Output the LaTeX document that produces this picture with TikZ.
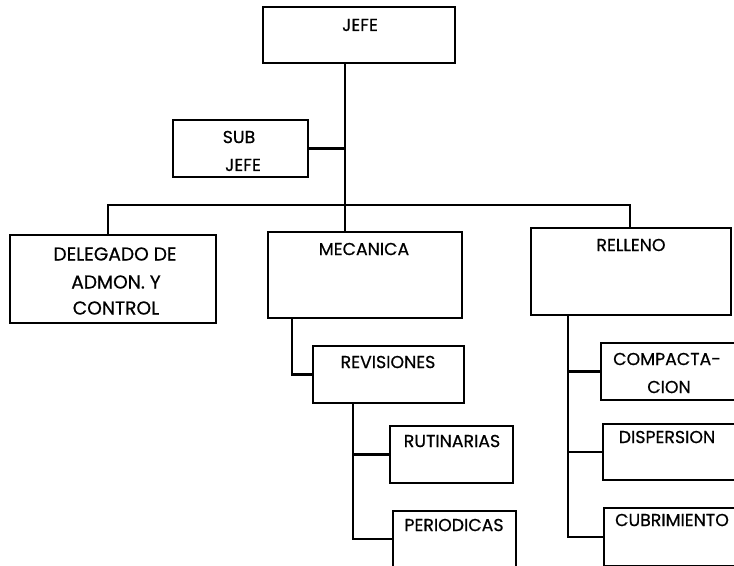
\documentclass[tikz,border=0pt]{standalone}
\usepackage{fontspec}
\setmainfont{Poppins}[FakeBold=0.4]
\newfontfamily\labelfont{Poppins}[FakeBold=0.6]
\begin{document}
\begin{tikzpicture}[x=0.75pt,y=-0.75pt,
  box/.style={draw=black,line width=1.4pt,fill=none,inner sep=0pt},
  lbl/.style={inner sep=0pt,font=\labelfont\fontsize{13}{15}\selectfont},
  biglbl/.style={inner sep=0pt,font=\labelfont\fontsize{14}{16}\selectfont},
  conn/.style={draw=black,line width=2pt,line join=miter}]
\useasboundingbox (0,0) rectangle (734,565);
\clip (0,0) rectangle (734,565);
% boxes: name, left, top, right, bottom
\newcommand{\orgbox}[5]{\node[box,minimum width={(#4-#2)*0.75pt},minimum height={(#5-#3)*0.75pt}] (#1) at ({(#2+#4)/2},{(#3+#5)/2}) {};}
\orgbox{jefe}{263}{7}{455}{63}
\orgbox{sub}{173}{120}{308}{177}
\orgbox{del}{10}{235}{216}{323}
\orgbox{mec}{268}{232}{462}{318}
\orgbox{rel}{531}{228}{731}{315}
\orgbox{rev}{313}{346}{464}{403}
\orgbox{rut}{390}{426}{513}{483}
\orgbox{per}{393}{511}{516}{567}
\orgbox{com}{601}{343}{745}{400}
\orgbox{dis}{603}{424}{745}{480}
\orgbox{cub}{604}{508}{745}{566}
% labels
\node[lbl] (jefe-t) at (360,25) {JEFE};
\node[lbl] (sub-t1) at (239,137) {SUB};
\node[lbl] (sub-t2) at (243,165) {JEFE};
\node[biglbl] (del-t1) at (115,254) {DELEGADO DE};
\node[biglbl] (del-t2) at (116,282) {ADMON. Y};
\node[biglbl] (del-t3) at (116,308) {CONTROL};
\node[lbl] (mec-t) at (364,249) {MECANICA};
\node[lbl] (rel-t) at (631,245) {RELLENO};
\node[lbl] (rev-t) at (388,362) {REVISIONES};
\node[lbl] (rut-t) at (452,441) {RUTINARIAS};
\node[lbl] (per-t) at (454,525) {PERIODICAS};
\node[lbl] (com-t1) at (667,359) {COMPACTA-};
\node[lbl] (com-t2) at (669,387) {CION};
\node[lbl] (dis-t) at (667,437) {DISPERSION};
\node[lbl] (cub-t) at (672,520) {CUBRIMIENTO};
% connector joints
\coordinate (tr) at (345,205);
\coordinate (bl) at (108,205);
\coordinate (br) at (630,205);
\coordinate (mv) at (292,0);
\coordinate (rv) at (353,0);
\coordinate (lv) at (568,0);
% connectors
\draw[conn] (tr |- jefe.south) -- (tr);
\draw[conn] (sub.east) -- (sub.east -| tr);
\draw[conn] (bl |- del.north) -- (bl) -- (br) -- (br |- rel.north);
\draw[conn] (tr) -- (tr |- mec.north);
\draw[conn] (mv |- mec.south) |- (rev.west);
\draw[conn] (rv |- rev.south) |- (rut.west);
\draw[conn] (rv |- rut.west) |- (per.west);
\draw[conn] (lv |- rel.south) |- (com.west);
\draw[conn] (lv |- com.west) |- (dis.west);
\draw[conn] (lv |- dis.west) |- (cub.west);
\end{tikzpicture}
\end{document}
